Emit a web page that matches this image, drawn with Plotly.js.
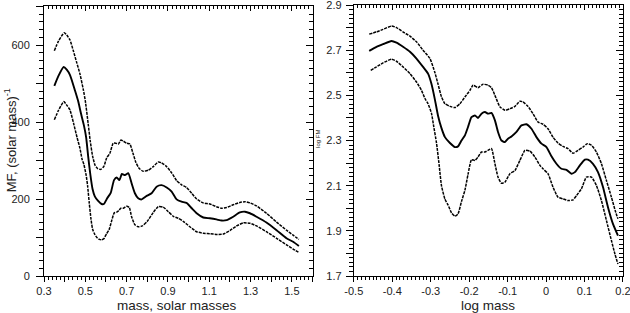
<!DOCTYPE html>
<html>
<head>
<meta charset="utf-8">
<script src="https://cdn.plot.ly/plotly-3.0.1.min.js"></script>
<style>html,body{margin:0;padding:0;background:#fff;}#chart{width:630px;height:313px;}</style>
</head>
<body>
<div id="chart"></div>
<script>
// ---- Left panel: MF vs mass ----
var massUpper = [0.35,0.37,0.398,0.41,0.426,0.442,0.458,0.474,0.49,0.50,0.514,0.524,0.535,0.547,0.56,0.575,0.59,0.603,0.619,0.635,0.648,0.66,0.672,0.685,0.7,0.716,0.73,0.745,0.76,0.78,0.805,0.829,0.853,0.869,0.894,0.918,0.942,0.966,0.99,1.015,1.039,1.071,1.103,1.135,1.16,1.184,1.216,1.248,1.273,1.297,1.329,1.377,1.426,1.474,1.506,1.534];
var mfUpper = [585,610,632,626,613,585,555,525,485,455,395,350,312,288,279,277,285,306,319,345,345,343,353,350,345,343,320,295,280,272,275,284,296,294,284,268,248,237,230,215,200,190,187,180,176,178,185,191,193,190,182,163,140,119,106,95];

var massMid = [0.35,0.37,0.395,0.41,0.426,0.45,0.465,0.48,0.493,0.504,0.514,0.524,0.535,0.546,0.562,0.579,0.59,0.606,0.623,0.639,0.652,0.665,0.677,0.692,0.708,0.724,0.74,0.756,0.773,0.797,0.821,0.845,0.869,0.894,0.918,0.942,0.966,0.99,1.015,1.039,1.071,1.103,1.135,1.16,1.184,1.216,1.248,1.273,1.297,1.329,1.377,1.426,1.474,1.506,1.534];
var mfMid = [494,520,543,536,522,482,455,420,392,360,310,265,226,207,195,187,187,202,216,249,256,249,265,262,267,241,215,202,199,208,215,232,236,230,219,199,193,190,176,163,152,150,147,144,145,154,165,167,163,154,139,119,98,89,78];

var massLower = [0.35,0.37,0.396,0.41,0.426,0.443,0.46,0.474,0.484,0.493,0.504,0.511,0.519,0.527,0.535,0.546,0.556,0.568,0.579,0.59,0.603,0.615,0.627,0.64,0.652,0.662,0.672,0.684,0.7,0.713,0.724,0.74,0.756,0.776,0.8,0.829,0.853,0.877,0.902,0.926,0.95,0.974,1.006,1.039,1.071,1.103,1.135,1.168,1.2,1.232,1.265,1.297,1.329,1.377,1.426,1.474,1.506,1.534];
var mfLower = [406,430,453,444,431,397,360,332,304,290,262,235,190,150,122,108,100,95,94,97,110,120,142,164,166,170,176,176,181,178,154,133,128,130,142,165,180,179,167,155,150,142,128,115,111,110,108,109,118,130,138,137,130,115,98,81,70,61];

// ---- Right panel: log FM vs log mass ----
var logMassUpper = [-0.46,-0.441,-0.424,-0.402,-0.389,-0.372,-0.354,-0.337,-0.32,-0.302,-0.289,-0.281,-0.272,-0.263,-0.25,-0.237,-0.224,-0.211,-0.198,-0.19,-0.177,-0.164,-0.151,-0.142,-0.133,-0.12,-0.107,-0.094,-0.081,-0.068,-0.06,-0.047,-0.034,-0.021,-0.008,0.005,0.018,0.031,0.044,0.057,0.07,0.083,0.096,0.107,0.118,0.131,0.144,0.157,0.17,0.181,0.187];
var logFmUpper = [2.771,2.781,2.792,2.807,2.80,2.781,2.762,2.737,2.70,2.663,2.60,2.55,2.493,2.463,2.451,2.446,2.463,2.493,2.522,2.545,2.534,2.549,2.545,2.534,2.50,2.449,2.434,2.441,2.451,2.474,2.471,2.451,2.419,2.382,2.372,2.352,2.315,2.289,2.274,2.264,2.244,2.256,2.271,2.286,2.279,2.249,2.197,2.123,2.049,1.983,1.953];

var logMassMid = [-0.46,-0.441,-0.424,-0.402,-0.389,-0.372,-0.354,-0.337,-0.32,-0.307,-0.298,-0.289,-0.281,-0.272,-0.263,-0.25,-0.237,-0.229,-0.22,-0.211,-0.203,-0.194,-0.185,-0.177,-0.168,-0.159,-0.151,-0.142,-0.133,-0.125,-0.116,-0.107,-0.099,-0.09,-0.077,-0.064,-0.051,-0.038,-0.025,-0.012,0.001,0.014,0.027,0.04,0.053,0.066,0.075,0.088,0.101,0.109,0.122,0.135,0.148,0.161,0.174,0.187];
var logFmMid = [2.697,2.715,2.727,2.741,2.733,2.715,2.693,2.663,2.626,2.596,2.55,2.48,2.41,2.355,2.315,2.289,2.271,2.274,2.30,2.323,2.36,2.404,2.411,2.40,2.419,2.426,2.419,2.422,2.389,2.338,2.30,2.293,2.308,2.318,2.338,2.367,2.372,2.352,2.315,2.286,2.271,2.23,2.197,2.175,2.17,2.153,2.16,2.19,2.215,2.215,2.197,2.16,2.094,2.005,1.931,1.879];

var logMassLower = [-0.456,-0.441,-0.424,-0.402,-0.389,-0.372,-0.354,-0.337,-0.324,-0.315,-0.307,-0.298,-0.292,-0.285,-0.278,-0.272,-0.263,-0.255,-0.246,-0.237,-0.229,-0.22,-0.211,-0.203,-0.194,-0.185,-0.177,-0.168,-0.159,-0.151,-0.142,-0.133,-0.125,-0.116,-0.107,-0.094,-0.081,-0.068,-0.055,-0.042,-0.029,-0.016,-0.008,0.005,0.018,0.031,0.044,0.057,0.07,0.079,0.092,0.105,0.118,0.131,0.144,0.157,0.17,0.179,0.187];
var logFmLower = [2.611,2.626,2.644,2.66,2.651,2.626,2.596,2.559,2.522,2.486,2.463,2.42,2.36,2.29,2.19,2.10,2.04,2.015,1.98,1.965,1.975,2.03,2.08,2.15,2.215,2.212,2.227,2.249,2.249,2.256,2.264,2.197,2.138,2.111,2.116,2.153,2.167,2.212,2.256,2.253,2.227,2.19,2.175,2.153,2.094,2.049,2.042,2.034,2.037,2.056,2.086,2.138,2.138,2.101,2.034,1.946,1.857,1.798,1.753];

// ---- Tick labels ----
var xTickValsL = [0.3,0.4,0.5,0.6,0.7,0.8,0.9,1.0,1.1,1.2,1.3,1.4,1.5,1.6];
var xTickTextL = ['0.3','','0.5','','0.7','','0.9','','1.1','','1.3','','1.5',''];
var yTickValsL = [0,100,200,300,400,500,600,700];
var yTickTextL = ['0','','200','','400','','600',''];
var xTickValsR = [-0.5,-0.4,-0.3,-0.2,-0.1,0,0.1,0.2];
var xTickTextR = ['-0.5','-0.4','-0.3','-0.2','-0.1','0','0.1','0.2'];
var yTickValsR = [1.7,1.8,1.9,2.0,2.1,2.2,2.3,2.4,2.5,2.6,2.7,2.8,2.9];
var yTickTextR = ['1.7','','1.9','','2.1','','2.3','','2.5','','2.7','','2.9'];

var FONT = 'Liberation Sans, Arial, sans-serif';
var dashLine = {color:'#000', width:1.5, dash:'3px,1px', shape:'spline', smoothing:0.5};
var solidLine = {color:'#000', width:1.9, shape:'spline', smoothing:0.5};

var traces = [
  {x:massUpper, y:mfUpper, xaxis:'x', yaxis:'y', mode:'lines', line:dashLine},
  {x:massMid, y:mfMid, xaxis:'x', yaxis:'y', mode:'lines', line:solidLine},
  {x:massLower, y:mfLower, xaxis:'x', yaxis:'y', mode:'lines', line:dashLine},
  {x:logMassUpper, y:logFmUpper, xaxis:'x2', yaxis:'y2', mode:'lines', line:dashLine},
  {x:logMassMid, y:logFmMid, xaxis:'x2', yaxis:'y2', mode:'lines', line:solidLine},
  {x:logMassLower, y:logFmLower, xaxis:'x2', yaxis:'y2', mode:'lines', line:dashLine},
  // empty traces so the mirrored frame axes (top/right) get drawn
  {x:[null], y:[null], xaxis:'x3', yaxis:'y3', mode:'lines', hoverinfo:'skip'},
  {x:[null], y:[null], xaxis:'x4', yaxis:'y4', mode:'lines', hoverinfo:'skip'}
];

function axisBase(range, vals, text, ticksDir, len, minorDtick, minorTick0, minorLen, showLabels) {
  return {
    range: range, showline:true, linecolor:'#000', linewidth:1, mirror:false,
    showgrid:false, zeroline:false, fixedrange:true,
    ticks: ticksDir, ticklen: len, tickwidth:1, tickcolor:'#000',
    tickmode:'array', tickvals: vals, ticktext: text,
    showticklabels: showLabels, ticklabeloverflow:'allow',
    tickfont:{family:FONT, size:11, color:'#222'},
    minor:{tickmode:'linear', tick0:minorTick0, dtick:minorDtick, ticks:ticksDir, ticklen:minorLen, tickwidth:1, tickcolor:'#000', showgrid:false}
  };
}

var rxL = [0.3, 1.6001], ryL = [0, 700.1], rxR = [-0.5, 0.2001], ryR = [1.7, 2.9001];

var xL = axisBase(rxL, xTickValsL, xTickTextL, 'outside', 5, 0.02, 0.3, 3, true);
xL.domain = [0, 0.4638]; xL.anchor = 'y'; xL.ticklabelstandoff = 0;
var yL = axisBase(ryL, yTickValsL, yTickTextL, 'outside', 7, 20, 0, 4, true);
yL.domain = [0, 0.9945]; yL.anchor = 'x'; yL.ticklabelstandoff = 4;
var xLt = axisBase(rxL, xTickValsL, xTickTextL, 'inside', 5, 0.02, 0.3, 3, false);
xLt.overlaying = 'x'; xLt.side = 'top'; xLt.anchor = 'y3';
var yLr = axisBase(ryL, yTickValsL, yTickTextL, 'inside', 7, 20, 0, 4, false);
yLr.overlaying = 'y'; yLr.side = 'right'; yLr.anchor = 'x3';

var xR = axisBase(rxR, xTickValsR, xTickTextR, 'outside', 5, 0.01, -0.5, 3, true);
xR.domain = [0.5351, 1]; xR.anchor = 'y2'; xR.ticklabelstandoff = 0;
var yR = axisBase(ryR, yTickValsR, yTickTextR, 'outside', 7, 0.02, 1.7, 4, true);
yR.domain = [0, 1]; yR.anchor = 'x2'; yR.ticklabelstandoff = 2;
var xRt = axisBase(rxR, xTickValsR, xTickTextR, 'inside', 5, 0.01, -0.5, 3, false);
xRt.overlaying = 'x2'; xRt.side = 'top'; xRt.anchor = 'y4';
var yRr = axisBase(ryR, yTickValsR, yTickTextR, 'inside', 7, 0.02, 1.7, 4, false);
yRr.overlaying = 'y2'; yRr.side = 'right'; yRr.anchor = 'x4';

var layout = {
  width:630, height:313,
  margin:{l:44, r:7, t:5, b:37, pad:0},
  paper_bgcolor:'#fff', plot_bgcolor:'rgba(0,0,0,0)',
  showlegend:false,
  font:{family:FONT, color:'#222'},
  xaxis:xL, xaxis3:xLt, yaxis:yL, yaxis3:yLr,
  xaxis2:xR, xaxis4:xRt, yaxis2:yR, yaxis4:yRr,
  annotations:[
    {text:'mass, solar masses', xref:'paper', yref:'paper', x:0.2296, y:-0.11, xanchor:'center', yanchor:'middle', showarrow:false, font:{family:FONT, size:13.5, color:'#222'}},
    {text:'log mass', xref:'paper', yref:'paper', x:0.7664, y:-0.11, xanchor:'center', yanchor:'middle', showarrow:false, font:{family:FONT, size:13.5, color:'#222'}},
    {text:'MF, (solar mass)<sup>-1</sup>', xref:'paper', yref:'paper', x:-0.059, y:0.50, xanchor:'center', yanchor:'middle', textangle:-90, showarrow:false, font:{family:FONT, size:13, color:'#222'}},
    {text:'log FM', xref:'paper', yref:'paper', x:0.473, y:0.5055, xanchor:'center', yanchor:'middle', textangle:-90, showarrow:false, font:{family:FONT, size:6, color:'#222'}}
  ]
};

Plotly.newPlot('chart', traces, layout, {staticPlot:true, displayModeBar:false});
</script>
</body>
</html>
